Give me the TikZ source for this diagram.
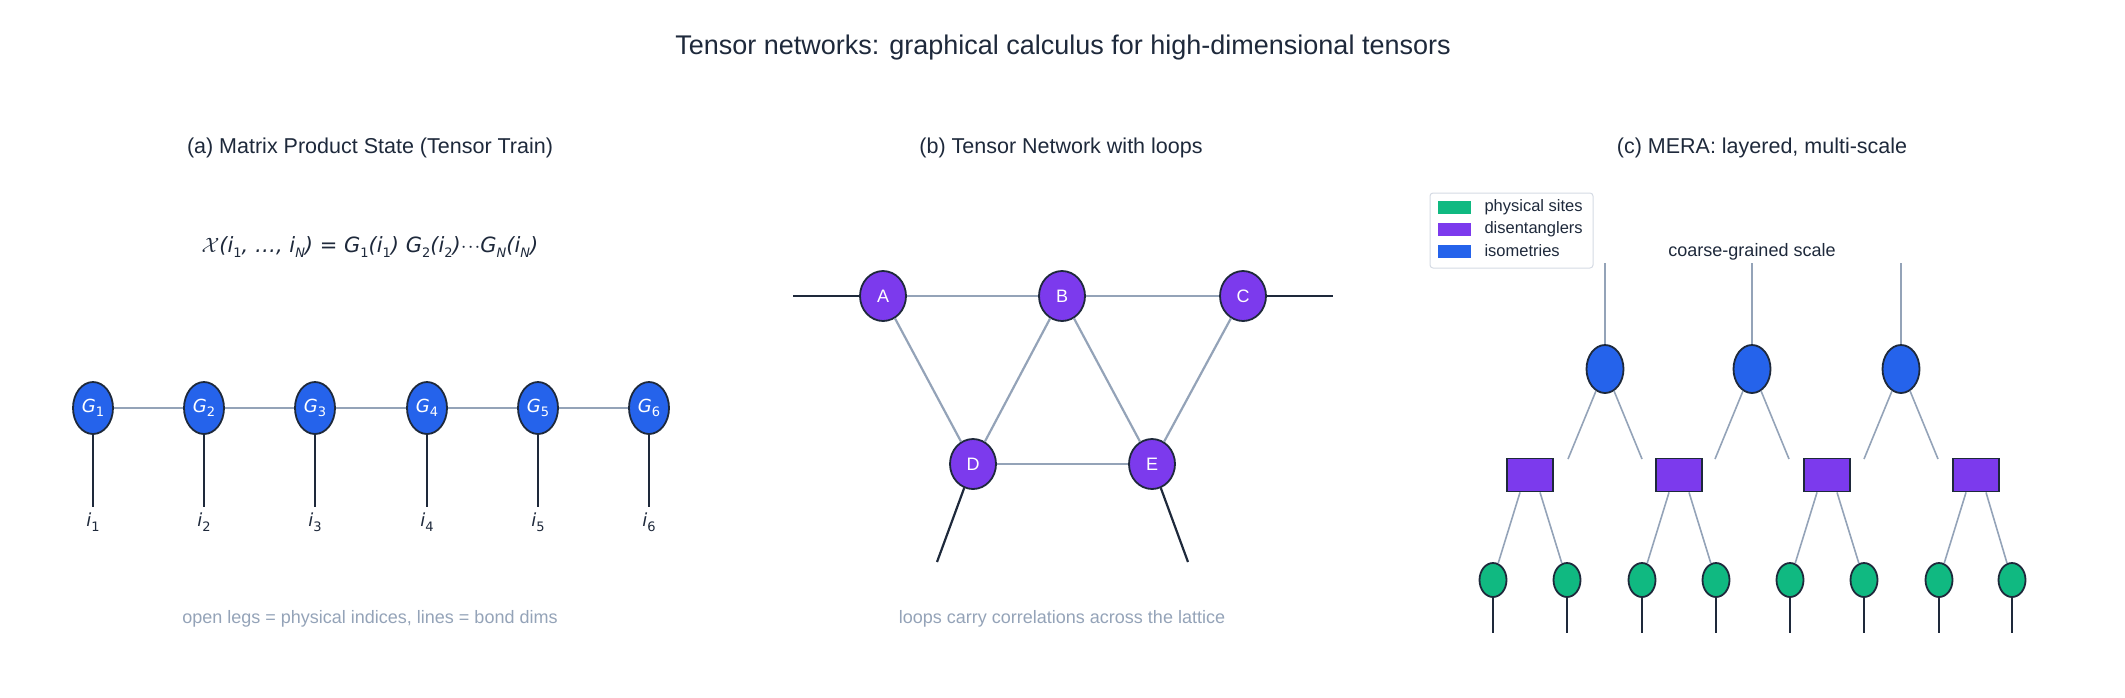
\documentclass[tikz,border=0pt]{standalone}
\usepackage{fontspec}
\setmainfont{Liberation Sans}
\newfontfamily\dv{DejaVu Sans}
\usetikzlibrary{shapes.geometric}
\definecolor{cblue}{HTML}{2563EB}
\definecolor{cpur}{HTML}{7C3AED}
\definecolor{cgrn}{HTML}{10B981}
\definecolor{cedge}{HTML}{94A3B8}
\definecolor{cdark}{HTML}{1E293B}
\newcommand{\mi}[1]{{\dv\itshape #1}}
\newcommand{\sbs}[1]{\raisebox{-0.25em}{\fontsize{13}{13}\selectfont\dv #1}}
\begin{document}
\begin{tikzpicture}[x=1pt,y=-1pt,
  every node/.style={text=cdark},
  tn/.style={ellipse,draw=cdark,line width=1.8pt,inner sep=0pt},
  mps/.style={tn,fill=cblue,minimum width=40pt,minimum height=52pt,text=white,font=\fontsize{18}{18}\selectfont},
  loopn/.style={tn,fill=cpur,minimum width=46pt,minimum height=50pt,text=white,font=\fontsize{18}{18}\selectfont},
  iso/.style={tn,fill=cblue,minimum width=37pt,minimum height=48pt},
  dis/.style={rectangle,draw=cdark,line width=1.8pt,fill=cpur,minimum width=46pt,minimum height=33pt,inner sep=0pt},
  site/.style={tn,fill=cgrn,minimum width=27pt,minimum height=34pt},
  bond/.style={draw=cedge,line width=2.2pt},
  leg/.style={draw=cdark,line width=2.2pt},
  thin/.style={draw=cedge,line width=1.6pt},
  ttl/.style={font=\fontsize{27}{27}\selectfont},
  sub/.style={font=\fontsize{21.5}{21.5}\selectfont},
  capt/.style={text=cedge,font=\fontsize{18}{18}\selectfont}]
\useasboundingbox (0,0) rectangle (2125,697);
\node[ttl] (title) at (1063,48) {Tensor networks: graphical calculus for high-dimensional tensors};
% (a)
\node[sub] (ta) at (370,148) {(a) Matrix Product State (Tensor Train)};
\node[font=\fontsize{21}{21}\selectfont] (form) at (370,247) {$\mathcal{X}$\mi{(i}\sbs{1}\mi{, \dots, i}\sbs{\itshape N}\mi{) }{\dv=}\mi{ G}\sbs{1}\mi{(i}\sbs{1}\mi{) G}\sbs{2}\mi{(i}\sbs{2}\mi{)}{\dv$\cdot\!\cdot\!\cdot$}\mi{G}\sbs{\itshape N}\mi{(i}\sbs{\itshape N}\mi{)}};
\foreach \k/\x in {1/93,2/204,3/315,4/427,5/538,6/649}{
  \node[mps] (g\k) at (\x,408) {\mi{G}\sbs{\k}};
  \coordinate (l\k) at (\x,507);
  \node[font=\fontsize{18}{18}\selectfont] (i\k) at (\x,522) {\mi{i}\sbs{\k}};
}
\foreach \a/\b in {1/2,2/3,3/4,4/5,5/6}{\draw[bond] (g\a) -- (g\b);}
\foreach \k in {1,...,6}{\draw[leg] (g\k) -- (l\k);}
\node[capt] (ca) at (370,619) {open legs = physical indices, lines = bond dims};
% (b)
\node[sub] (tb) at (1061,148) {(b) Tensor Network with loops};
\node[loopn] (A) at (883,296) {A};
\node[loopn] (B) at (1062,296) {B};
\node[loopn] (C) at (1243,296) {C};
\node[loopn] (D) at (973,464) {D};
\node[loopn] (E) at (1152,464) {E};
\foreach \a/\b in {A/B,B/C,A/D,B/D,B/E,C/E,D/E}{\draw[bond] (\a) -- (\b);}
\coordinate (oa) at (793,296); \coordinate (oc) at (1333,296);
\coordinate (od) at (937,562); \coordinate (oe) at (1188,562);
\draw[leg] (A) -- (oa); \draw[leg] (C) -- (oc);
\draw[leg] (D) -- (od); \draw[leg] (E) -- (oe);
\node[capt] (cb) at (1062,619) {loops carry correlations across the lattice};
% (c)
\node[sub] (tc) at (1762,148) {(c) MERA: layered, multi-scale};
\node[font=\fontsize{18}{18}\selectfont] (cg) at (1752,252) {coarse-grained scale};
\foreach \k/\x in {1/1605,2/1752,3/1901}{
  \node[iso] (s\k) at (\x,369) {};
  \coordinate (top\k) at (\x,263);
  \draw[thin] (top\k) -- (s\k);
}
\foreach \k/\x in {1/1530,2/1679,3/1827,4/1976}{\node[dis] (d\k) at (\x,475) {};}
\foreach \k/\x in {1/1493,2/1567,3/1642,4/1716,5/1790,6/1864,7/1939,8/2012}{
  \node[site] (p\k) at (\x,580) {};
  \coordinate (pl\k) at (\x,633);
  \draw[leg] (p\k) -- (pl\k);
}
\foreach \k/\x in {1/1605,2/1752,3/1901}{
  \coordinate (e\k a) at (\x-37,459); \coordinate (e\k b) at (\x+37,459);
  \draw[thin] (s\k) -- (e\k a); \draw[thin] (s\k) -- (e\k b);
}
\foreach \k/\a/\b in {1/1/2,2/3/4,3/5/6,4/7/8}{
  \draw[thin] ([xshift=-10pt]d\k.south) -- (p\a);
  \draw[thin] ([xshift=10pt]d\k.south) -- (p\b);
}
% legend
\node[draw=cedge!40,line width=1pt,rounded corners=3pt,minimum width=163pt,minimum height=75pt,inner sep=0pt] (leg) at (1511.5,230.5) {};
\foreach \c/\t/\y in {cgrn/physical sites/207,cpur/disentanglers/229,cblue/isometries/251}{
  \node[fill=\c,minimum width=33pt,minimum height=13pt,inner sep=0pt] (sw\y) at (1454.5,\y) {};
  \node[anchor=west,font=\fontsize{16.5}{16.5}\selectfont] (lt\y) at (1481,\y) {\t};
}
\end{tikzpicture}
\end{document}
